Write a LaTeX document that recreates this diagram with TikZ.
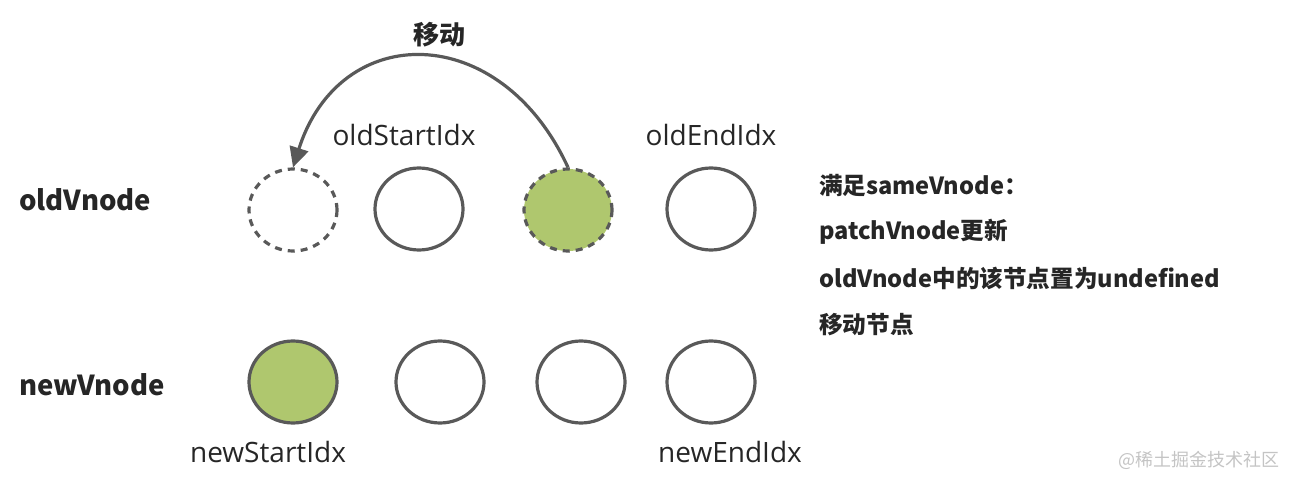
\documentclass[tikz,border=0pt]{standalone}
\usepackage{fontspec}
\usetikzlibrary{shapes.geometric,arrows.meta}
\setmainfont{Open Sans}
\newfontfamily\cjk{Noto Sans CJK SC}
\definecolor{edge}{HTML}{595959}
\definecolor{leaf}{HTML}{AFC76E}
\definecolor{wm}{HTML}{C4C4C4}
\tikzset{
  vn/.style={ellipse, draw=edge, line width=3.2pt, minimum width=88pt, minimum height=82pt, inner sep=0pt},
  vndash/.style={vn, dash pattern=on 7pt off 6pt},
  idx/.style={font=\fontsize{28}{32}\selectfont, text=black!85, inner sep=0pt},
  rowlab/.style={font=\cjk\bfseries\fontsize{27.5}{31}\selectfont, text=black!85, anchor=west, inner sep=0pt},
  note/.style={font=\cjk\bfseries\fontsize{23.6}{27}\selectfont, text=black!85, anchor=west, inner sep=0pt},
  movearrow/.style={draw=edge, line width=3.2pt, -{Triangle[length=20pt,width=19pt]}}
}
\begin{document}
\begin{tikzpicture}[x=1pt,y=-1pt]
\useasboundingbox (0,0) rectangle (1295,486);
% old row
\node[vndash] (o1) at (293,210) {};
\node[vn] (o2) at (419,209) {};
\node[vndash, fill=leaf] (o3) at (568,210) {};
\node[vn] (o4) at (711,209) {};
% new row
\node[vn, fill=leaf] (n1) at (293,382) {};
\node[vn] (n2) at (440,382) {};
\node[vn] (n3) at (581,382) {};
\node[vn] (n4) at (711,382) {};
% row labels
\node[rowlab] (lold) at (19,200) {oldVnode};
\node[rowlab] (lnew) at (19,385) {newVnode};
% index labels
\node[idx] (osi) at (404,135) {oldStartIdx};
\node[idx] (oei) at (711,135) {oldEndIdx};
\node[idx] (nsi) at (268,452) {newStartIdx};
\node[idx] (nei) at (730,452) {newEndIdx};
% move arrow
\draw[movearrow] (o3.north) .. controls (500,20) and (340,20) .. (o1.north);
\node[font=\cjk\bfseries\fontsize{26}{30}\selectfont, text=black!85] (mv) at (439,35) {移动};
% notes
\node[note] (t1) at (819,185) {满足sameVnode：};
\node[note] (t2) at (819,232) {patchVnode更新};
\node[note] (t3) at (819,278) {oldVnode中的该节点置为undefined};
\node[note] (t4) at (819,325) {移动节点};
% watermark
\node[font=\cjk\fontsize{18}{20}\selectfont, text=wm, anchor=east, inner sep=0pt] (wmk) at (1280,460) {@稀土掘金技术社区};
\end{tikzpicture}
\end{document}
